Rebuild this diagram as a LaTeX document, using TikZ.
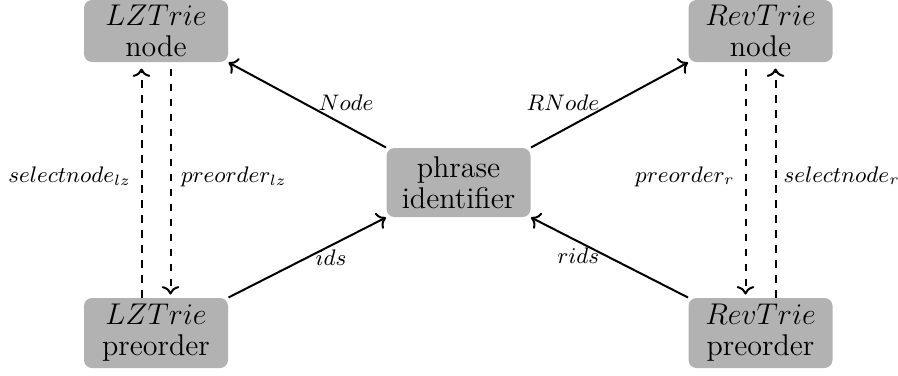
\documentclass[tikz,border=0pt]{standalone}
\usetikzlibrary{arrows.meta}
\begin{document}
\begin{tikzpicture}[x=0.4pt,y=-0.4pt,
  box/.style={fill=gray!60, rounded corners=3.2pt, align=center, minimum width=57.6pt,
    inner sep=0pt, font=\fontsize{12}{12.5}\selectfont},
  conn/.style={thick,->},
  dconn/.style={thick,dashed,->},
  lab/.style={font=\small, inner sep=0pt}]
\useasboundingbox (0,0) rectangle (898,375);
\node[box, minimum height=24.8pt] (lzn) at (156,31) {$LZTrie$\\node};
\node[box, minimum height=24.8pt] (rvn) at (760.5,31) {$RevTrie$\\node};
\node[box, minimum height=28pt] (lzp) at (156,333) {$LZTrie$\\preorder};
\node[box, minimum height=28pt] (rvp) at (760.5,333) {$RevTrie$\\preorder};
\node[box, minimum height=27.6pt] (ph) at (458.5,182.5) {phrase\\identifier};
% solid connectors
\draw[conn] (ph.north west) -- node[lab, pos=0.434, anchor=base west] {$Node$} (lzn.south east);
\draw[conn] (ph.north east) -- node[lab, pos=0.44, anchor=base east] {$RNode$} (rvn.south west);
\draw[conn] (lzp.north east) -- node[lab, pos=0.547, anchor=base west, yshift=-4.5pt] {$ids$} (ph.south west);
\draw[conn] (rvp.north west) -- node[lab, pos=0.56, anchor=base east, yshift=-4.5pt] {$rids$} (ph.south east);
% dashed connectors
\draw[dconn, shorten >=2.4pt] ([xshift=-5.8pt]lzp.north) -- node[lab, pos=0.49, anchor=base east, xshift=-3.8pt] {$selectnode_{lz}$} ([xshift=-5.8pt]lzn.south);
\draw[dconn, shorten <=2.4pt, shorten >=1.2pt] ([xshift=5.8pt]lzn.south) -- node[lab, pos=0.51, anchor=base west, xshift=3.8pt] {$preorder_{lz}$} ([xshift=5.8pt]lzp.north);
\draw[dconn, shorten <=2.4pt, shorten >=1.2pt] ([xshift=-6pt]rvn.south) -- node[lab, pos=0.51, anchor=base east, xshift=-4pt] {$preorder_{r}$} ([xshift=-6pt]rvp.north);
\draw[dconn, shorten >=2.4pt] ([xshift=6pt]rvp.north) -- node[lab, pos=0.49, anchor=base west, xshift=2.8pt] {$selectnode_{r}$} ([xshift=6pt]rvn.south);
\end{tikzpicture}
\end{document}
